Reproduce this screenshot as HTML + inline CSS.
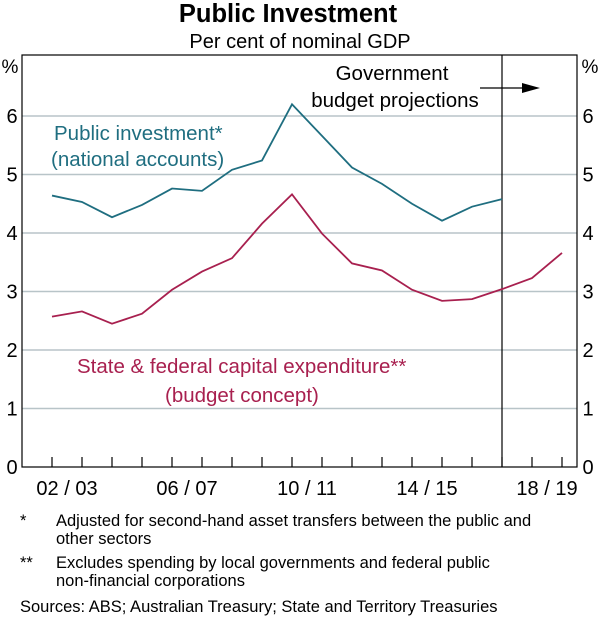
<!DOCTYPE html>
<html><head><meta charset="utf-8"><style>
body{margin:0;width:600px;height:617px;background:#fff;font-family:"Liberation Sans",Arial,sans-serif;overflow:hidden}
svg text{font-family:"Liberation Sans",Arial,sans-serif}
.fn{position:absolute;font-size:16.5px;line-height:18px;color:#000;white-space:nowrap}
</style></head><body>
<svg id="chart" width="600" height="500" style="position:absolute;left:0;top:0">
<text x="288" y="22" text-anchor="middle" font-size="25.5" font-weight="bold">Public Investment</text>
<text x="300" y="48" text-anchor="middle" font-size="20">Per cent of nominal GDP</text>
<g id="grid"></g>
<g id="axes"></g>
<g id="series"></g>
<text x="54" y="140" font-size="20.5" fill="#1f6e80">Public investment*</text>
<text x="51" y="166" font-size="20.5" fill="#1f6e80">(national accounts)</text>
<text x="77" y="373" font-size="20.5" fill="#a8204f">State &amp; federal capital expenditure**</text>
<text x="165" y="402" font-size="20.5" fill="#a8204f">(budget concept)</text>
<text x="392" y="80" text-anchor="middle" font-size="20.5">Government</text>
<text x="395" y="107" text-anchor="middle" font-size="20.5">budget projections</text>
<line x1="480" y1="88" x2="528" y2="88" stroke="#000" stroke-width="1.3"/>
<polygon points="540,88 522,83 522,93" fill="#000"/>
</svg>
<div class="fn" style="left:20px;top:512px">*</div>
<div class="fn" style="left:56px;top:512px">Adjusted for second-hand asset transfers between the public and<br>other sectors</div>
<div class="fn" style="left:20px;top:554px">**</div>
<div class="fn" style="left:56px;top:554px">Excludes spending by local governments and federal public<br>non-financial corporations</div>
<div class="fn" style="left:20px;top:598px">Sources: ABS; Australian Treasury; State and Territory Treasuries</div>
<script>
const yTicks=[0,1,2,3,4,5,6];
const xLabels=["02/03","06/07","10/11","14/15","18/19"];
const xLabelIdx=[0,4,8,12,16];
const publicInv=[4.64,4.53,4.27,4.48,4.76,4.72,5.08,5.24,6.2,5.66,5.12,4.84,4.5,4.21,4.45,4.58];
const capex=[2.57,2.66,2.45,2.62,3.03,3.34,3.57,4.16,4.66,3.99,3.48,3.36,3.03,2.84,2.87,3.04,3.23,3.66];
const nTicks=18, projIdx=15;
const L=22,R=577,T=55,B=467;
const x=i=>52+30*i;
const y=v=>B-(v/6)*351;
const NS="http://www.w3.org/2000/svg";
function mk(p,tag,a){const e=document.createElementNS(NS,tag);for(const k in a)e.setAttribute(k,a[k]);p.appendChild(e);return e;}
const grid=document.getElementById('grid'),axes=document.getElementById('axes'),ser=document.getElementById('series');
yTicks.forEach(v=>{
 if(v>0){const g=mk(grid,'line',{x1:L,x2:R,y1:y(v),y2:y(v),stroke:'#b8c4c8','stroke-width':1.5});
 
 }
 const t1=mk(axes,'text',{x:12,y:y(v)+7,'text-anchor':'middle','font-size':20});t1.textContent=v;
 
 
 const t2=mk(axes,'text',{x:588,y:y(v)+7,'text-anchor':'middle','font-size':20});t2.textContent=v;
 
 
});
const p1=mk(axes,'text',{x:10,y:73,'text-anchor':'middle','font-size':19});p1.textContent='%';


const p2=mk(axes,'text',{x:590,y:73,'text-anchor':'middle','font-size':19});p2.textContent='%';


const fr=mk(axes,'rect',{x:L,y:T,width:R-L,height:B-T,fill:'none',stroke:'#000','stroke-width':1.2});


for(let i=0;i<nTicks;i++){const t=mk(axes,'line',{x1:x(i),x2:x(i),y1:B,y2:B-10,stroke:'#000','stroke-width':1.2});
 
 }
const dv=mk(axes,'line',{x1:x(projIdx),x2:x(projIdx),y1:T,y2:B,stroke:'#000','stroke-width':1.2});


xLabels.forEach((s,k)=>{const t=mk(axes,'text',{x:x(xLabelIdx[k]+0.5),y:495,'text-anchor':'middle','font-size':20});t.textContent=s.replace('/',' / ');
 
 });
const l1=mk(ser,'polyline',{points:publicInv.map((v,i)=>x(i)+','+y(v)).join(' '),fill:'none',stroke:'#1f6e80','stroke-width':1.8});


const l2=mk(ser,'polyline',{points:capex.map((v,i)=>x(i)+','+y(v)).join(' '),fill:'none',stroke:'#a8204f','stroke-width':1.8});


</script>
</body></html>
